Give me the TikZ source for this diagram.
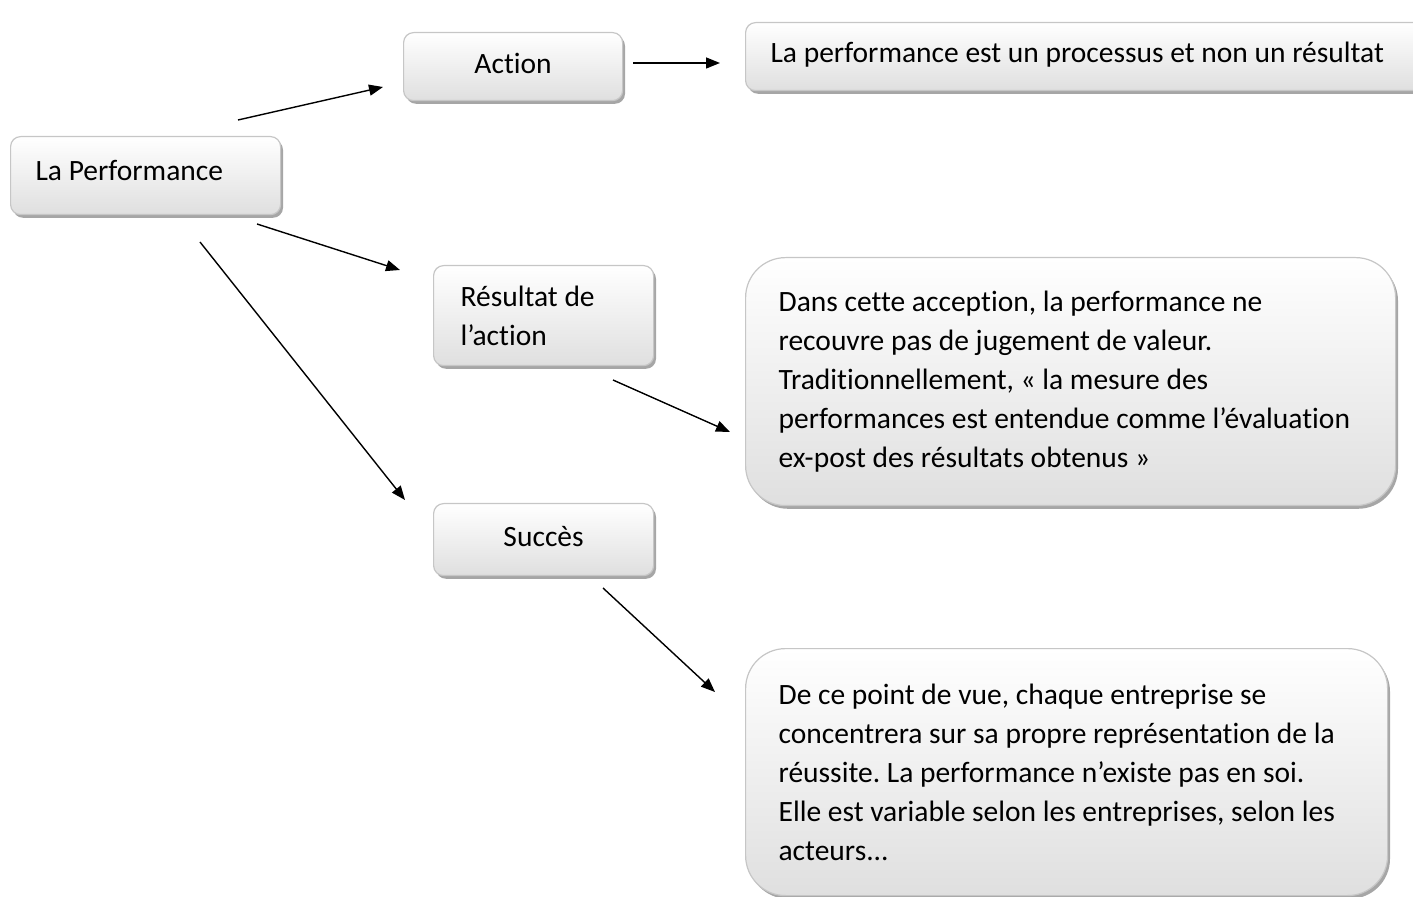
\documentclass[tikz,border=0pt]{standalone}
\usepackage{fontspec}
\setmainfont{Carlito}[RawFeature={-liga}]
\frenchspacing
\usetikzlibrary{arrows.meta,shadows}

\begin{document}
\begin{tikzpicture}[
  x=0.5pt, y=-0.5pt,
  every node/.style = {font=\fontsize{14.75}{19.5}\selectfont},
  box/.style = {draw=gray!45, line width=0.6pt, rounded corners=5pt,
    top color=white, bottom color=gray!25, anchor=north west, inner ysep=0pt,
    drop shadow={shadow xshift=1.2pt, shadow yshift=-1.6pt, fill=gray!70, opacity=1}},
  bigbox/.style = {box, rounded corners=20pt, align=flush left},
  link/.style = {-{Triangle[length=7pt,width=5.5pt]}, line width=0.7pt}
]
  \useasboundingbox (0,0) rectangle (1413,897);

  % boxes
  \node[box, minimum width=135pt, minimum height=39pt, inner xsep=12.5pt,
        text width=110pt, align=flush left, text depth=5pt] (perf) at (10,136) {La Performance};
  \node[box, minimum width=109.5pt, minimum height=34pt, text depth=3pt] (action) at (403,32) {Action};
  \node[box, minimum width=350pt, minimum height=34pt, inner xsep=12.5pt,
        text width=325pt, align=flush left, text depth=4pt] (process) at (745,22)
        {La performance est un processus et non un résultat};
  \node[box, minimum width=110pt, minimum height=50pt, inner xsep=13.5pt,
        text width=83pt, align=flush left] (result) at (433,265) {Résultat de\\l’action};
  \node[box, minimum width=110pt, minimum height=36pt, text depth=3pt] (succes) at (433,503) {Succès};
  \node[bigbox, minimum width=325pt, minimum height=124pt, inner xsep=16.5pt,
        text width=292pt] (accept) at (745,257)
        {Dans cette acception, la performance ne\\
         recouvre pas de jugement de valeur.\\
         Traditionnellement, « la mesure des\\
         performances est entendue comme l’évaluation\\
         ex-post des résultats obtenus »};
  \node[bigbox, minimum width=321pt, minimum height=123.5pt, inner xsep=16.5pt,
        text width=288pt] (vue) at (745,648)
        {De ce point de vue, chaque entreprise se\\
         concentrera sur sa propre représentation de la\\
         réussite. La performance n’existe pas en soi.\\
         Elle est variable selon les entreprises, selon les\\
         acteurs...};

  % arrow ends
  \coordinate (perf-a) at (238,120);
  \coordinate (perf-r) at (257,224);
  \coordinate (perf-s) at (200,242);
  \coordinate (action-in) at (383,87);
  \coordinate (action-out) at (633,63);
  \coordinate (process-in) at (720,63);
  \coordinate (result-in) at (400,270);
  \coordinate (result-out) at (613,380);
  \coordinate (accept-in) at (730,432);
  \coordinate (succes-in) at (405,500);
  \coordinate (succes-out) at (603,588);
  \coordinate (vue-in) at (715,692);

  % arrows
  \draw[link] (perf-a) -- (action-in);
  \draw[link] (action-out) -- (process-in);
  \draw[link] (perf-r) -- (result-in);
  \draw[link] (perf-s) -- (succes-in);
  \draw[link] (result-out) -- (accept-in);
  \draw[link] (succes-out) -- (vue-in);
\end{tikzpicture}
\end{document}
